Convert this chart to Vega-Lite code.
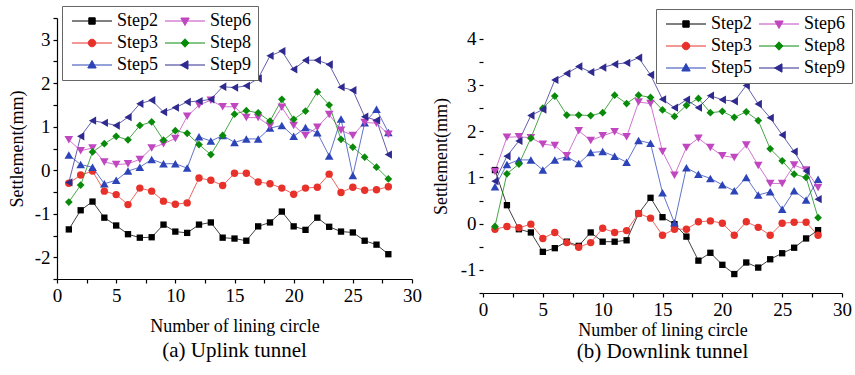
{
  "$schema": "https://vega.github.io/schema/vega-lite/v6.json",
  "background": "white",
  "padding": {"left": 8, "top": 5, "right": 2, "bottom": 2},
  "spacing": 71,
  "bounds": "flush",
  "resolve": {"scale": {"color": "independent", "shape": "independent"}, "legend": {"color": "independent", "shape": "independent"}},
  "config": {
    "font": "Liberation Serif",
    "view": {"stroke": null},
    "axis": {"grid": false, "domainColor": "black", "tickColor": "black", "labelColor": "black", "titleColor": "black", "labelFont": "Liberation Serif", "titleFont": "Liberation Serif", "labelFontSize": 19, "titleFontSize": 18, "titleFontWeight": "normal", "tickSize": 4, "domainWidth": 1.2, "tickWidth": 1.2, "labelPadding": 3, "labelOverlap": false, "labelFlush": false},
    "title": {"font": "Liberation Serif", "fontSize": 21, "fontWeight": "normal", "color": "black"},
    "legend": {"labelFont": "Liberation Serif", "labelFontSize": 18, "labelColor": "black"}
  },
  "datasets": {
    "up": [
      {"n":1,"Step2":-1.36,"Step3":-0.30,"Step5":0.35,"Step6":0.70,"Step8":-0.73,"Step9":-0.28},
      {"n":2,"Step2":-0.92,"Step3":-0.11,"Step5":0.13,"Step6":0.45,"Step8":-0.34,"Step9":0.78},
      {"n":3,"Step2":-0.72,"Step3":-0.02,"Step5":0.07,"Step6":0.51,"Step8":0.42,"Step9":1.14},
      {"n":4,"Step2":-1.09,"Step3":-0.48,"Step5":-0.31,"Step6":0.19,"Step8":0.61,"Step9":1.09},
      {"n":5,"Step2":-1.27,"Step3":-0.56,"Step5":-0.23,"Step6":0.13,"Step8":0.78,"Step9":1.03},
      {"n":6,"Step2":-1.47,"Step3":-0.79,"Step5":-0.02,"Step6":0.15,"Step8":0.70,"Step9":1.22},
      {"n":7,"Step2":-1.55,"Step3":-0.41,"Step5":0.07,"Step6":0.25,"Step8":1.03,"Step9":1.53},
      {"n":8,"Step2":-1.54,"Step3":-0.48,"Step5":0.25,"Step6":0.51,"Step8":1.11,"Step9":1.61},
      {"n":9,"Step2":-1.25,"Step3":-0.71,"Step5":0.15,"Step6":0.61,"Step8":0.69,"Step9":1.34},
      {"n":10,"Step2":-1.41,"Step3":-0.78,"Step5":0.15,"Step6":0.73,"Step8":0.91,"Step9":1.44},
      {"n":11,"Step2":-1.44,"Step3":-0.75,"Step5":0.05,"Step6":1.24,"Step8":0.85,"Step9":1.57},
      {"n":12,"Step2":-1.25,"Step3":-0.18,"Step5":0.77,"Step6":1.50,"Step8":0.59,"Step9":1.59},
      {"n":13,"Step2":-1.20,"Step3":-0.23,"Step5":0.67,"Step6":1.61,"Step8":0.36,"Step9":1.63},
      {"n":14,"Step2":-1.55,"Step3":-0.35,"Step5":0.80,"Step6":1.46,"Step8":0.80,"Step9":1.92},
      {"n":15,"Step2":-1.57,"Step3":-0.07,"Step5":0.64,"Step6":1.46,"Step8":1.29,"Step9":1.90},
      {"n":16,"Step2":-1.62,"Step3":-0.07,"Step5":0.72,"Step6":1.21,"Step8":1.37,"Step9":1.94},
      {"n":17,"Step2":-1.29,"Step3":-0.27,"Step5":0.72,"Step6":1.21,"Step8":1.32,"Step9":2.11},
      {"n":18,"Step2":-1.20,"Step3":-0.31,"Step5":0.97,"Step6":1.02,"Step8":1.13,"Step9":2.63},
      {"n":19,"Step2":-0.95,"Step3":-0.41,"Step5":1.03,"Step6":1.45,"Step8":1.63,"Step9":2.74},
      {"n":20,"Step2":-1.29,"Step3":-0.55,"Step5":0.78,"Step6":1.03,"Step8":1.17,"Step9":2.32},
      {"n":21,"Step2":-1.37,"Step3":-0.41,"Step5":0.98,"Step6":0.80,"Step8":1.36,"Step9":2.53},
      {"n":22,"Step2":-1.09,"Step3":-0.39,"Step5":0.86,"Step6":0.99,"Step8":1.80,"Step9":2.53},
      {"n":23,"Step2":-1.30,"Step3":-0.09,"Step5":0.33,"Step6":1.28,"Step8":1.50,"Step9":2.43},
      {"n":24,"Step2":-1.41,"Step3":-0.51,"Step5":1.18,"Step6":0.92,"Step8":0.71,"Step9":1.91},
      {"n":25,"Step2":-1.43,"Step3":-0.39,"Step5":-0.12,"Step6":0.80,"Step8":0.53,"Step9":1.84},
      {"n":26,"Step2":-1.62,"Step3":-0.46,"Step5":1.09,"Step6":1.10,"Step8":0.30,"Step9":1.23},
      {"n":27,"Step2":-1.71,"Step3":-0.45,"Step5":1.40,"Step6":1.08,"Step8":0.07,"Step9":1.15},
      {"n":28,"Step2":-1.93,"Step3":-0.38,"Step5":0.87,"Step6":0.83,"Step8":-0.20,"Step9":0.36}
    ],
    "down": [
      {"n":1,"Step2":1.16,"Step3":-0.12,"Step5":0.80,"Step6":1.13,"Step8":-0.06,"Step9":0.92},
      {"n":2,"Step2":0.40,"Step3":-0.06,"Step5":1.28,"Step6":1.87,"Step8":1.08,"Step9":1.46},
      {"n":3,"Step2":-0.12,"Step3":-0.09,"Step5":1.38,"Step6":1.88,"Step8":1.29,"Step9":1.79},
      {"n":4,"Step2":-0.19,"Step3":-0.01,"Step5":1.38,"Step6":1.86,"Step8":1.85,"Step9":2.34},
      {"n":5,"Step2":-0.61,"Step3":-0.32,"Step5":1.16,"Step6":1.72,"Step8":2.50,"Step9":2.47},
      {"n":6,"Step2":-0.53,"Step3":-0.19,"Step5":1.38,"Step6":1.69,"Step8":2.76,"Step9":3.11},
      {"n":7,"Step2":-0.39,"Step3":-0.41,"Step5":1.45,"Step6":1.47,"Step8":2.35,"Step9":3.25},
      {"n":8,"Step2":-0.48,"Step3":-0.51,"Step5":1.30,"Step6":2.01,"Step8":2.35,"Step9":3.40},
      {"n":9,"Step2":-0.19,"Step3":-0.41,"Step5":1.54,"Step6":1.80,"Step8":2.34,"Step9":3.28},
      {"n":10,"Step2":-0.39,"Step3":-0.10,"Step5":1.56,"Step6":1.90,"Step8":2.40,"Step9":3.38},
      {"n":11,"Step2":-0.39,"Step3":-0.19,"Step5":1.46,"Step6":1.99,"Step8":2.78,"Step9":3.45},
      {"n":12,"Step2":-0.36,"Step3":-0.15,"Step5":1.33,"Step6":1.88,"Step8":2.60,"Step9":3.48},
      {"n":13,"Step2":0.22,"Step3":0.22,"Step5":1.80,"Step6":2.63,"Step8":2.78,"Step9":3.59},
      {"n":14,"Step2":0.56,"Step3":0.12,"Step5":1.74,"Step6":2.60,"Step8":2.73,"Step9":3.22},
      {"n":15,"Step2":0.14,"Step3":-0.25,"Step5":0.67,"Step6":1.56,"Step8":2.46,"Step9":2.69},
      {"n":16,"Step2":-0.01,"Step3":-0.12,"Step5":0.02,"Step6":1.05,"Step8":2.32,"Step9":2.51},
      {"n":17,"Step2":-0.28,"Step3":-0.12,"Step5":1.21,"Step6":1.65,"Step8":2.56,"Step9":2.68},
      {"n":18,"Step2":-0.80,"Step3":0.04,"Step5":1.07,"Step6":1.85,"Step8":2.71,"Step9":2.51},
      {"n":19,"Step2":-0.63,"Step3":0.06,"Step5":0.98,"Step6":1.65,"Step8":2.40,"Step9":2.77},
      {"n":20,"Step2":-0.89,"Step3":0.01,"Step5":0.84,"Step6":1.47,"Step8":2.43,"Step9":2.68},
      {"n":21,"Step2":-1.09,"Step3":-0.25,"Step5":0.71,"Step6":1.43,"Step8":2.30,"Step9":2.65},
      {"n":22,"Step2":-0.84,"Step3":0.04,"Step5":1.00,"Step6":1.70,"Step8":2.42,"Step9":2.99},
      {"n":23,"Step2":-0.95,"Step3":-0.08,"Step5":0.62,"Step6":1.26,"Step8":2.23,"Step9":2.59},
      {"n":24,"Step2":-0.77,"Step3":-0.25,"Step5":0.69,"Step6":0.87,"Step8":1.62,"Step9":2.29},
      {"n":25,"Step2":-0.64,"Step3":0.01,"Step5":0.31,"Step6":0.87,"Step8":1.36,"Step9":1.92},
      {"n":26,"Step2":-0.52,"Step3":0.03,"Step5":0.71,"Step6":1.27,"Step8":1.07,"Step9":1.56},
      {"n":27,"Step2":-0.32,"Step3":0.03,"Step5":0.51,"Step6":1.16,"Step8":1.00,"Step9":1.14},
      {"n":28,"Step2":-0.14,"Step3":-0.25,"Step5":0.96,"Step6":0.78,"Step8":0.13,"Step9":0.53}
    ]
  },
  "hconcat": [
    {
      "width": 355,
      "height": 261,
      "title": {"text": "(a) Uplink tunnel", "orient": "bottom", "offset": 5},
      "data": {"name": "up"},
      "transform": [{"fold": ["Step2","Step3","Step5","Step6","Step8","Step9"], "as": ["step","value"]}],
      "encoding": {
        "x": {"field": "n", "type": "quantitative", "scale": {"domain": [0, 30], "nice": false}, "axis": {"title": "Number of lining circle", "titlePadding": 12, "labelFont": "Liberation Serif", "values": [0,2.5,5,7.5,10,12.5,15,17.5,20,22.5,25,27.5,30], "labelExpr": "datum.value % 5 === 0 ? '' + datum.value : ''"}},
        "y": {"field": "value", "type": "quantitative", "scale": {"domain": [-2.5, 3.5], "nice": false, "zero": false}, "axis": {"title": "Settlement(mm)", "titlePadding": 8, "labelFont": "Liberation Serif", "values": [-2.5,-2,-1.5,-1,-0.5,0,0.5,1,1.5,2,2.5,3,3.5], "labelExpr": "datum.value % 1 === 0 ? '' + datum.value : ''"}},
        "color": {"field": "step", "type": "nominal", "scale": {"domain": ["Step2","Step3","Step5","Step6","Step8","Step9"], "range": ["#000000","#e8312b","#2d44b8","#c047c0","#0a8a0a","#2f2a8f"]},
          "legend": {"orient": "none", "legendX": 5, "legendY": -12, "columns": 2, "title": null, "symbolSize": 100, "symbolStrokeWidth": 1, "symbolOpacity": 1, "labelOffset": 31, "padding": 6, "rowPadding": 4, "columnPadding": 2, "strokeColor": "#666666", "fillColor": "white", "labelFont": "Liberation Serif", "labelFontSize": 18}}
      },
      "layer": [
        {"mark": {"type": "line", "strokeWidth": 1, "opacity": 0.75}, "encoding": {}},
        {"transform": [{"filter": "datum.step === 'Step2'"}], "mark": {"type": "point", "filled": true, "opacity": 1, "shape": "square", "size": 40}},
        {"transform": [{"filter": "datum.step === 'Step3'"}], "mark": {"type": "point", "filled": true, "opacity": 1, "shape": "circle", "size": 55}},
        {"transform": [{"filter": "datum.step === 'Step5'"}], "mark": {"type": "point", "filled": true, "opacity": 1, "shape": "triangle-up", "size": 75}},
        {"transform": [{"filter": "datum.step === 'Step6'"}], "mark": {"type": "point", "filled": true, "opacity": 1, "shape": "triangle-down", "size": 75}},
        {"transform": [{"filter": "datum.step === 'Step8'"}], "mark": {"type": "point", "filled": true, "opacity": 1, "shape": "diamond", "size": 60}},
        {"transform": [{"filter": "datum.step === 'Step9'"}], "mark": {"type": "point", "filled": true, "opacity": 1, "shape": "triangle-left", "size": 70}},
        {"transform": [{"filter": "false"}], "mark": {"type": "point", "filled": true, "opacity": 1},
          "encoding": {"shape": {"field": "step", "type": "nominal", "scale": {"domain": ["Step2","Step3","Step5","Step6","Step8","Step9"], "range": ["M-1,0H7M2.36,-0.64H3.64V0.64H2.36Z","M-1,0H7M3.76,0A0.76,0.76,0,1,1,2.24,0A0.76,0.76,0,1,1,3.76,0Z","M-1,0H7M3,-0.9L3.84,0.6L2.16,0.6Z","M-1,0H7M3,0.9L3.84,-0.6L2.16,-0.6Z","M-1,0H7M3,-0.85L3.8,0L3,0.85L2.2,0Z","M-1,0H7M2.1,0L3.6,-0.84L3.6,0.84Z"]},
            "legend": {"orient": "none", "legendX": 5, "legendY": -12, "columns": 2, "title": null, "symbolSize": 100, "symbolStrokeWidth": 1, "symbolOpacity": 1, "labelOffset": 31, "padding": 6, "rowPadding": 4, "columnPadding": 2, "strokeColor": "#666666", "fillColor": "white", "labelFont": "Liberation Serif", "labelFontSize": 18}}}}
      ]
    },
    {
      "width": 359,
      "height": 275,
      "title": {"text": "(b) Downlink tunnel", "orient": "bottom", "offset": 2},
      "data": {"name": "down"},
      "transform": [{"fold": ["Step2","Step3","Step5","Step6","Step8","Step9"], "as": ["step","value"]}],
      "encoding": {
        "x": {"field": "n", "type": "quantitative", "scale": {"domain": [0, 30], "nice": false}, "axis": {"title": "Number of lining circle", "titlePadding": 2, "labelFont": "Liberation Serif", "values": [0,2.5,5,7.5,10,12.5,15,17.5,20,22.5,25,27.5,30], "labelExpr": "datum.value % 5 === 0 ? '' + datum.value : ''"}},
        "y": {"field": "value", "type": "quantitative", "scale": {"domain": [-1.5, 4.45], "nice": false, "zero": false}, "axis": {"title": "Settlement(mm)", "titlePadding": 10, "titleY": 138, "domain": false, "labelFont": "Liberation Serif", "values": [-1.5,-1,-0.5,0,0.5,1,1.5,2,2.5,3,3.5,4], "labelExpr": "datum.value % 1 === 0 ? '' + datum.value : ''"}},
        "color": {"field": "step", "type": "nominal", "scale": {"domain": ["Step2","Step3","Step5","Step6","Step8","Step9"], "range": ["#000000","#e8312b","#2d44b8","#c047c0","#0a8a0a","#2f2a8f"]},
          "legend": {"orient": "none", "legendX": 173, "legendY": -9, "columns": 2, "title": null, "symbolSize": 100, "symbolStrokeWidth": 1, "symbolOpacity": 1, "labelOffset": 31, "padding": 6, "rowPadding": 4, "columnPadding": 2, "strokeColor": "#666666", "fillColor": "white", "labelFont": "Liberation Serif", "labelFontSize": 18}}
      },
      "layer": [
        {
          "data": {"values": [{"a": 1}]},
          "transform": [],
          "mark": {"type": "rule", "color": "black", "strokeWidth": 1.2},
          "encoding": {"x": {"datum": 0, "type": "quantitative"}, "y": {"datum": -1.5, "type": "quantitative"}, "y2": {"datum": 4}, "color": {"value": "black"}}
        },
        {"mark": {"type": "line", "strokeWidth": 1, "opacity": 0.75}, "encoding": {}},
        {"transform": [{"filter": "datum.step === 'Step2'"}], "mark": {"type": "point", "filled": true, "opacity": 1, "shape": "square", "size": 40}},
        {"transform": [{"filter": "datum.step === 'Step3'"}], "mark": {"type": "point", "filled": true, "opacity": 1, "shape": "circle", "size": 55}},
        {"transform": [{"filter": "datum.step === 'Step5'"}], "mark": {"type": "point", "filled": true, "opacity": 1, "shape": "triangle-up", "size": 75}},
        {"transform": [{"filter": "datum.step === 'Step6'"}], "mark": {"type": "point", "filled": true, "opacity": 1, "shape": "triangle-down", "size": 75}},
        {"transform": [{"filter": "datum.step === 'Step8'"}], "mark": {"type": "point", "filled": true, "opacity": 1, "shape": "diamond", "size": 60}},
        {"transform": [{"filter": "datum.step === 'Step9'"}], "mark": {"type": "point", "filled": true, "opacity": 1, "shape": "triangle-left", "size": 70}},
        {"transform": [{"filter": "false"}], "mark": {"type": "point", "filled": true, "opacity": 1},
          "encoding": {"shape": {"field": "step", "type": "nominal", "scale": {"domain": ["Step2","Step3","Step5","Step6","Step8","Step9"], "range": ["M-1,0H7M2.36,-0.64H3.64V0.64H2.36Z","M-1,0H7M3.76,0A0.76,0.76,0,1,1,2.24,0A0.76,0.76,0,1,1,3.76,0Z","M-1,0H7M3,-0.9L3.84,0.6L2.16,0.6Z","M-1,0H7M3,0.9L3.84,-0.6L2.16,-0.6Z","M-1,0H7M3,-0.85L3.8,0L3,0.85L2.2,0Z","M-1,0H7M2.1,0L3.6,-0.84L3.6,0.84Z"]},
            "legend": {"orient": "none", "legendX": 173, "legendY": -9, "columns": 2, "title": null, "symbolSize": 100, "symbolStrokeWidth": 1, "symbolOpacity": 1, "labelOffset": 31, "padding": 6, "rowPadding": 4, "columnPadding": 2, "strokeColor": "#666666", "fillColor": "white", "labelFont": "Liberation Serif", "labelFontSize": 18}}}}
      ]
    }
  ]
}
